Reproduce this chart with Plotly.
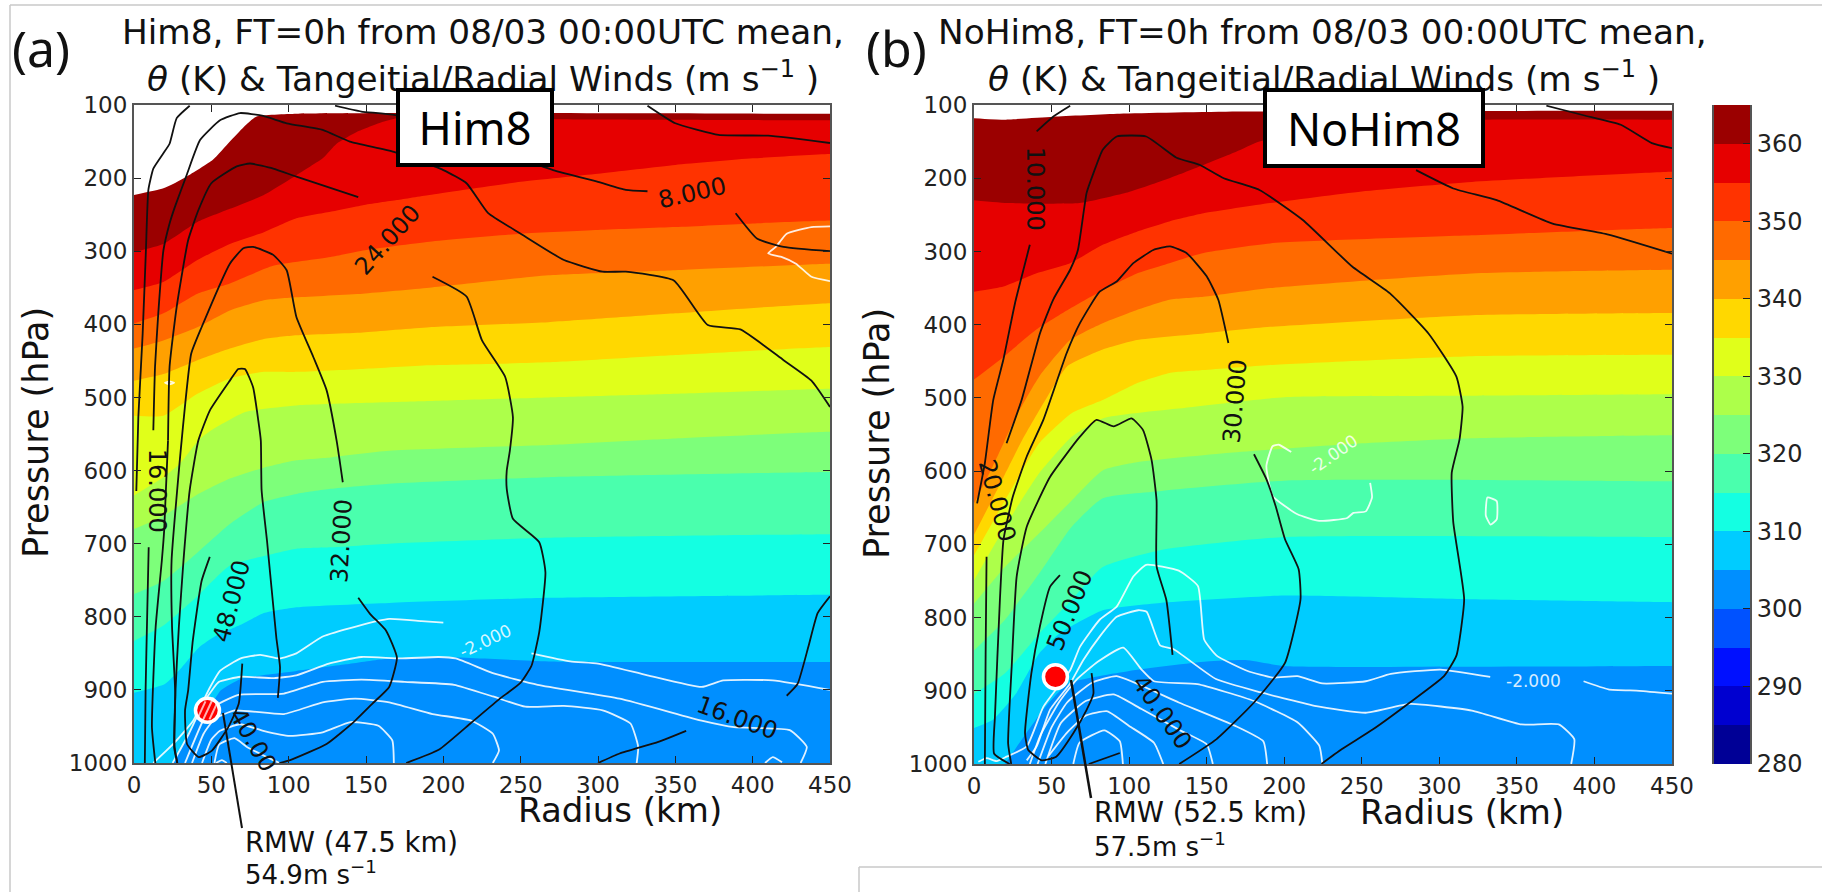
import plotly.graph_objects as go

W, H = 1822, 892
FONT = "DejaVu Sans"

radius_ticks = [0, 50, 100, 150, 200, 250, 300, 350, 400, 450]
pressure_ticks = [100, 200, 300, 400, 500, 600, 700, 800, 900, 1000]
theta_levels = [280, 285, 290, 295, 300, 305, 310, 315, 320, 325, 330, 335, 340, 345, 350, 355, 360, 365]
theta_colors = ["#000096", "#0000d0", "#0010ff", "#0052ff", "#008fff", "#00ccff", "#14ffe2", "#4affad",
                "#7dff7a", "#adff4a", "#e0ff1a", "#ffd800", "#ffa000", "#ff6a00", "#ff3300", "#e60000", "#9b0000"]
theta_ticks = [280, 290, 300, 310, 320, 330, 340, 350, 360]

# ---- panel (a) isentropes: (radius km, pressure hPa) of the lower edge of each band
a_th365 = [(0,223),(19,214),(34,198),(51,175),(62,150),(71,130),(79,116),(105,112),(191,111),(450,112)]
a_th360 = [(0,301),(19,290),(41,260),(62,242),(84,223),(105,196),(122,173),(131,153),(144,137),(161,123),(170,118),(300,120),(450,121)]
a_th355 = [(0,353),(19,342),(41,312),(62,290),(84,274),(105,255),(127,246),(148,237),(170,230),(191,223),(250,205),(300,194),(350,182),(400,173),(450,167)]
a_th350 = [(0,399),(19,385),(41,358),(62,344),(90,320),(127,308),(148,299),(191,287),(250,276),(300,271),(350,267),(400,262),(450,258)]
a_th345 = [(0,433),(19,422),(41,404),(62,381),(84,367),(105,363),(148,358),(191,350),(268,333),(350,326),(450,317)]
a_th340 = [(0,477),(19,468),(41,449),(62,433),(84,420),(105,415),(148,411),(191,404),(268,397),(350,385),(450,371)]
a_th335 = [(0,525),(19,525),(41,495),(62,474),(84,465),(105,465),(148,461),(191,456),(268,452),(350,442),(450,431)]
a_th330 = [(0,634),(19,609),(30,590),(42,558),(50,545),(72,520),(105,511),(191,505),(268,500),(350,495),(450,488)]
a_th325 = [(0,680),(19,662),(40,634),(62,611),(84,596),(105,586),(127,582),(165,573),(268,565),(350,556),(450,547)]
a_th320 = [(0,769),(19,751),(40,714),(62,673),(84,643),(105,632),(127,625),(165,618),(268,609),(450,602)]
a_th315 = [(0,833),(19,812),(40,774),(62,730),(84,717),(105,707),(127,705),(165,700),(268,692),(450,687)]
a_th310 = [(0,904),(20,892),(31,869),(42,842),(53,826),(70,810),(84,795),(105,787),(165,781),(268,774),(450,770)]
a_th305 = [(25,1000),(31,979),(40,942),(50,920),(56,901),(69,885),(105,874),(137,865),(161,858),(200,855),(268,861),(450,862)]

# ---- panel (b) isentropes
b_th365 = [(0,118),(19,120),(51,116),(94,112),(170,109),(450,108)]
b_th360 = [(0,230),(23,234),(68,234),(98,220),(126,200),(148,182),(169,164),(184,150),(240,125),(330,120),(450,120)]
b_th355 = [(0,355),(19,348),(40,330),(62,316),(83,291),(105,273),(126,259),(148,248),(191,234),(250,218),(321,205),(450,191)]
b_th350 = [(0,475),(19,444),(40,407),(62,378),(83,353),(105,330),(126,316),(148,302),(191,289),(321,278),(450,268)]
b_th345 = [(0,644),(12,594),(27,526),(42,471),(62,421),(83,398),(105,380),(126,366),(148,362),(191,350),(321,330),(450,325)]
b_th340 = [(0,687),(16,621),(31,558),(46,503),(60,457),(83,434),(105,421),(148,412),(191,403),(321,387),(450,384)]
b_th335 = [(0,715),(20,640),(42,562),(63,521),(83,503),(105,480),(126,466),(148,462),(191,455),(321,443),(450,441)]
b_th330 = [(0,749),(20,676),(42,603),(63,553),(83,528),(130,515),(200,499),(321,497),(450,495)]
b_th325 = [(0,781),(20,731),(42,685),(63,640),(83,599),(105,588),(165,575),(250,562),(321,555),(450,551)]
b_th320 = [(0,845),(20,803),(42,740),(63,676),(83,637),(121,627),(200,613),(321,612),(450,614)]
b_th315 = [(0,904),(20,876),(42,822),(63,776),(83,731),(120,708),(200,690),(450,690)]
b_th310 = [(0,951),(12,940),(27,904),(42,849),(55,822),(83,790),(120,780),(200,770),(321,775),(450,779)]
b_th305 = [(20,1000),(29,972),(46,922),(61,890),(100,873),(150,860),(175,858),(200,866),(450,866)]

# ---- panel (a) tangential wind contours (black)
a_k1 = [(36,101),(27.6,118),(23,153),(19,166),(12.5,187),(9.3,216),(7.7,299),(5.6,413),(2.8,527),(1.5,628)]
a_k2 = [(9.5,705),(8.5,800),(7.5,900),(7,1000)]
a_k3 = [(12.5,545),(13.6,458),(15.7,385),(19,299),(23,262),(26.5,239),(34,196),(42.7,148),(55.6,121),(68.5,111),(83.6,115),(98.7,125),(122,134),(139.6,150),(168,164),(200,189),(215,207),(229,248),(250,276),(278,312),(303,328),(318,328),(349,340),(371,401),(392,407),(420,449),(438,477),(450,513)]
a_k4a = [(22,559),(19.5,682),(18,723),(14,814),(11.6,951),(13.8,1000)]
a_k4b = [(22,559),(23,458),(27.6,376),(35,285),(41.6,244),(50,207),(66.4,184),(75,180),(90,187),(105,198),(145,226)]
a_k5 = [(193,335),(215,362),(225,422),(240,472),(245,527),(243,573),(241,600),(241,625),(245,666),(262,698),(266,739),(262,821),(257,867),(250,890),(236,913),(218,945),(197,982),(176,1000)]
a_k6a = [(28,1000),(26,979),(26.7,906),(24.6,814),(24.3,723),(30.8,559),(37,440),(43.7,404),(62,317),(70.7,296),(77,294),(90,305),(98.7,326),(105,390),(116,445),(124.5,490),(131,559),(135,616)]
a_k6b = [(145,774),(152.6,796),(163,819),(170,856),(165,896),(154,919),(142,944),(124.5,974),(101,996),(94,1000)]
a_k7 = [(28,1000),(26.3,979),(26.7,906),(29,814),(32,723),(36,627),(41.6,559),(49,518),(62,477),(67.4,461),(71.7,461),(77,486),(80.4,532),(82,559),(82.5,627),(86,696),(92,828),(94.4,869),(93,911)]
a_k8 = [(49,718),(43.7,751),(38,833),(35,901),(33,928),(34.3,974),(41.8,992),(50.4,983),(61,951),(67.7,919),(70,864)]
a_k9 = [(300,1000),(314,987),(339,971),(357,956)]
a_k10 = [(450,772),(442,795),(436,841),(429,892),(422,908)]
a_k11a = [(130,101),(147,109),(169,114),(271,189),(300,205),(318,216),(332,218)]
a_k11b = [(389,248),(403,283),(420,294),(450,300)]
a_k12 = [(332,101),(350,125),(378,141),(410,142),(450,152)]

# ---- panel (a) radial wind contours (white)
a_w1a = [(200,808),(186,806),(165,803),(144,813),(122,827),(105,850),(94,857),(81.6,852),(69,857),(55.6,874),(49,897),(38,943),(25.4,974),(12.5,1000)]
a_w1b = [(257,850),(282,861),(300,864),(332,880),(367,896),(381,887),(413,887),(450,900)]
a_w2 = [(25,1000),(35.5,960),(46,914),(55,889),(69,882),(90.5,884),(105,880),(126,864),(147,855),(172,857),(197,855),(208,857),(232,877),(261,893),(314,912),(367,942),(388,951),(424,955),(435,978),(431,1000)]
a_w3 = [(33,1000),(44,945),(50,925),(67,907),(97,905),(122,889),(147,886),(175,889),(207,893),(232,909),(253,923),(278,922),(303,928),(321,946),(326,978),(325,1000)]
a_w4 = [(37.5,1000),(45,960),(52,940),(65,928),(97,933),(122,917),(143,912),(165,917),(193,933),(218,942),(232,960),(236,983),(232,1000)]
a_w5 = [(44,1000),(50,968),(55.6,956),(68.5,947),(83.6,956),(100.8,963),(122,958),(140,944),(158,949),(167,969),(168,1000)]
a_w6 = [(52,1000),(55,975),(65,966),(73,978),(90,996),(94,1000)]
a_w7 = [(53,1000),(56.8,996),(60,1000)]
a_w8 = [(408,1000),(413,992),(419,999)]
a_w9 = [(450,266),(438,267),(422,276),(415,294),(410,303),(419,308),(428,317),(438,335),(450,341)]
a_w10 = [(20,480),(23,478),(26,480),(23,482),(20,480)]

# ---- panel (b) tangential wind contours (black)
b_k1 = [(62,101),(51,116),(40.4,136)]
b_k2 = [(36,291),(26.4,371),(18.9,448),(12.4,503),(7,589),(2,644)]
b_k3 = [(21,562),(30.7,503),(42.5,412),(51,366),(62,325),(67,298),(72.6,220),(77,193),(83,161),(92,143),(111,143),(130.6,172),(145.7,182),(161,200),(184,216),(212,257),(244,321),(268,357),(293,412),(311,471),(315,512),(313,557),(308,602),(309,670),(316,775),(311,852),(303,880),(281,916),(257,953),(237,980),(224,1000)]
b_k4 = [(23,1000),(13,986),(13.5,935),(16.7,776),(19,694),(25,635),(34,580),(44.7,530),(59.7,439),(68.3,398),(81,355),(92,341),(102.7,316),(115.6,298),(126.4,293),(137,302),(150,334),(157.5,366),(164,425)]
b_k5 = [(180.5,577),(188.5,611),(194.5,648),(200.5,693),(209.3,734),(210.5,775),(200.5,862),(180.5,916),(156.4,966),(132.3,1000)]
b_k6 = [(24,1000),(22,972),(24.3,867),(27.5,744),(34,676),(49,608),(68.3,553),(79,530),(90,539),(101.6,528),(109,544),(114.5,585),(117.7,640),(117.7,730),(124,776),(128,851)]
b_k7 = [(55.4,742),(49,758),(42.5,812),(37,876),(32.9,958),(35,981),(43.6,995),(53,990),(64,958),(72.6,926),(77,904),(75.8,876)]
b_k8 = [(8.1,717),(7.5,850),(7,1000)]
b_k9 = [(74,1000),(94,985)]
b_k10 = [(369,101),(393,114),(417,127),(437,152),(450,159)]
b_k11 = [(285,189),(309,214),(337,230),(373,262),(409,277),(450,303)]

# ---- panel (b) radial wind contours (white)
b_w1 = [(204.5,574),(196.5,564),(192.5,566),(188.5,593),(192.5,634),(208.5,659),(222.6,668),(240.6,664),(244.6,657),(252.6,655),(256.6,636),(255.4,616)]
b_w2 = [(331,636),(337,641),(337,666),(333,673),(330,661),(331,636)]
b_w3a = [(2.8,997),(8.1,992),(14.6,996),(21,990),(34,976),(44.7,922),(62,872),(68.3,840),(81,803),(92,785),(102.7,744),(111,728),(132,736),(144.4,757),(148.4,830),(156.4,852),(176.4,873),(192.5,882),(208.5,880),(224.6,890),(252.6,887),(268.7,877),(300.7,871),(332.8,881)]
b_w3b = [(393,887),(409,898),(429,900),(450,904)]
b_w4 = [(34,995),(40.4,976),(49,926),(62,890),(70.5,858),(81,826),(92,799),(106,790),(111.3,792),(120,838),(128.5,843),(156,884),(184.5,902),(220.6,921),(252.6,930),(281,918),(321,927),(353,946),(377,946),(387,966),(385,1000)]
b_w5 = [(36,1000),(43,960),(55,915),(66,885),(80,860),(96.2,841),(108,871),(116,887),(144,891),(180.5,914),(208.5,943),(222.6,975),(224.6,1000)]
b_w6 = [(41,1000),(50,950),(60,916),(76,889),(92,880),(132,916),(168.4,948),(186.5,969),(189,1000)]
b_w7 = [(46,1000),(56,944),(72,914),(90,905),(108,925),(132,953),(150,973),(154,1000)]
b_w8 = [(48,989),(60,957),(72,934),(86,928),(100,948),(116,971),(122,1000)]
b_w9 = [(64,1000),(68,971),(84,954),(94,969),(96,1000)]

a_rmw_point = (47.5, 928)
b_rmw_point = (52.5, 881)
a_hatch_r = [43.5, 47.5, 51.5]
a_hatch_size = [14, 20, 14]

a_isentropes = [(365,a_th365),(360,a_th360),(355,a_th355),(350,a_th350),(345,a_th345),(340,a_th340),(335,a_th335),(330,a_th330),(325,a_th325),(320,a_th320),(315,a_th315),(310,a_th310),(305,a_th305)]
b_isentropes = [(365,b_th365),(360,b_th360),(355,b_th355),(350,b_th350),(345,b_th345),(340,b_th340),(335,b_th335),(330,b_th330),(325,b_th325),(320,b_th320),(315,b_th315),(310,b_th310),(305,b_th305)]
a_black = [a_k1,a_k2,a_k3,a_k4a,a_k4b,a_k5,a_k6a,a_k6b,a_k7,a_k8,a_k9,a_k10,a_k11a,a_k11b,a_k12]
a_white = [a_w1a,a_w1b,a_w2,a_w3,a_w4,a_w5,a_w6,a_w7,a_w8,a_w9,a_w10]
b_black = [b_k1,b_k2,b_k3,b_k4,b_k5,b_k6,b_k7,b_k8,b_k9,b_k10,b_k11]
b_white = [b_w1,b_w2,b_w3a,b_w3b,b_w4,b_w5,b_w6,b_w7,b_w8,b_w9]

fig = go.Figure()

def band_color(top):
    return theta_colors[theta_levels.index(top) - 1]

def draw_panel(isentropes, black, white, xa, ya):
    for top, edge in isentropes:
        rs = [q[0] for q in edge]
        ps = [q[1] for q in edge]
        fig.add_trace(go.Scatter(x=rs + [rs[-1] + 40, rs[-1] + 40, rs[0] - 40], y=ps + [ps[-1], 1200, 1200], mode="lines", fill="toself",
                                 fillcolor=band_color(top), line=dict(width=0, shape="spline", smoothing=0.5), hoverinfo="skip",
                                 showlegend=False, xaxis=xa, yaxis=ya))
    for line, col, wd in [(w, "rgba(255,255,255,0.88)", 1.8) for w in white] + [(k, "#111111", 1.8) for k in black]:
        fig.add_trace(go.Scatter(x=[q[0] for q in line], y=[q[1] for q in line], mode="lines",
                                 line=dict(color=col, width=wd, shape="spline", smoothing=0.45),
                                 hoverinfo="skip", showlegend=False, xaxis=xa, yaxis=ya))

draw_panel(a_isentropes, a_black, a_white, "x", "y")
draw_panel(b_isentropes, b_black, b_white, "x2", "y2")

# RMW dots
for pt, xa, ya in [(a_rmw_point, "x", "y"), (b_rmw_point, "x2", "y2")]:
    fig.add_trace(go.Scatter(x=[pt[0]], y=[pt[1]], mode="markers", cliponaxis=False, hoverinfo="skip", showlegend=False,
                             marker=dict(size=24, color="#ff0000", line=dict(color="white", width=3.5)), xaxis=xa, yaxis=ya))
fig.add_trace(go.Scatter(x=a_hatch_r, y=[a_rmw_point[1]] * 3, mode="markers", hoverinfo="skip", showlegend=False,
                         marker=dict(symbol="line-ne", size=a_hatch_size, angle=-20, line=dict(color="white", width=2)),
                         xaxis="x", yaxis="y"))

# colour bar
fig.add_trace(go.Bar(x=[0] * 17, y=[theta_levels[i + 1] - theta_levels[i] for i in range(17)], base=theta_levels[:-1],
                     width=1, marker=dict(color=theta_colors, line=dict(width=0)), hoverinfo="skip",
                     showlegend=False, xaxis="x3", yaxis="y3"))

def ax_common():
    return dict(showgrid=False, zeroline=False, showline=True, linecolor="#555555", linewidth=2, mirror="allticks",
                ticks="inside", ticklen=7, tickwidth=1, tickcolor="#222222",
                tickfont=dict(family=FONT, size=23, color="#222222"))

def fx(x):
    return x / W

def fy(y):
    return 1 - y / H

fig.update_layout(
    width=W, height=H, autosize=False, margin=dict(l=0, r=0, t=0, b=0, autoexpand=False),
    paper_bgcolor="white", plot_bgcolor="white", showlegend=False, bargap=0,
    xaxis=dict(domain=[fx(134), fx(830)], range=[0, 450], tickvals=radius_ticks, anchor="y", **ax_common()),
    yaxis=dict(domain=[fy(763), fy(105)], range=[1000, 100], tickvals=pressure_ticks, anchor="x", **ax_common()),
    xaxis2=dict(domain=[fx(974), fx(1672)], range=[0, 450], tickvals=radius_ticks, anchor="y2", **ax_common()),
    yaxis2=dict(domain=[fy(764), fy(105)], range=[1000, 100], tickvals=pressure_ticks, anchor="x2", **ax_common()),
    xaxis3=dict(domain=[fx(1714), fx(1750)], range=[-0.5, 0.5], visible=False, anchor="y3"),
    yaxis3=dict(domain=[fy(764), fy(105)], range=[280, 365], tickvals=theta_ticks, side="right", anchor="x3",
                showgrid=False, zeroline=False, showline=True, linecolor="#555555", linewidth=2, mirror=True,
                ticks="inside", ticklen=7, tickwidth=1, tickcolor="#222222",
                tickfont=dict(family=FONT, size=24, color="#222222")),
)

def note(text, x, y, size, angle=0, color="#111111", family=FONT, xanchor="center", **kw):
    fig.add_annotation(text=text, x=fx(x), y=fy(y), xref="paper", yref="paper", showarrow=False, font=dict(family=family, size=size, color=color),
                       textangle=angle, xanchor=xanchor, yanchor="middle", **kw)

def dnote(text, x, y, xa, ya, size, angle=0, color="#111111"):
    fig.add_annotation(text=text, x=x, y=y, xref=xa, yref=ya, showarrow=False, font=dict(family=FONT, size=size, color=color),
                       textangle=angle, xanchor="center", yanchor="middle")

# titles
TITLE2 = "<i>θ</i> (K) &amp; Tangeitial/Radial Winds (m s<sup>−1</sup> )"
note("Him8, FT=0h from 08/03 00:00UTC mean,", 483, 32, 34.3)
note(TITLE2, 483, 77, 34.3)
note("NoHim8, FT=0h from 08/03 00:00UTC mean,", 1322, 32, 34.3)
note(TITLE2, 1324, 77, 34.3)
note("(a)", 41, 48, 50, family="Noto Sans")
note("(b)", 896, 48, 50, family="Noto Sans")

# axis titles
note("Pressure (hPa)", 36, 433, 35, angle=-90)
note("Pressure (hPa)", 877, 434, 35, angle=-90)
note("Radius (km)", 620, 810, 34)
note("Radius (km)", 1462, 812, 34)

# RMW notes
note("RMW (47.5 km)", 243, 842, 27.5, xanchor="left")
note("54.9m s<sup>−1</sup>", 243, 873, 26, xanchor="left")
note("RMW (52.5 km)", 1092, 812, 27.5, xanchor="left")
note("57.5m s<sup>−1</sup>", 1092, 845, 26, xanchor="left")

# contour labels
dnote("8.000", 361, 221, "x", "y", 24, -13)
dnote("24.000", 164, 285, "x", "y", 24, -48)
dnote("16.000", 14.6, 627, "x", "y", 24, 90)
dnote("32.000", 134, 696, "x", "y", 24, -87)
dnote("48.000", 63, 778, "x", "y", 24, -75)
dnote("40.00", 77, 968, "x", "y", 24, 60)
dnote("16.000", 390, 939, "x", "y", 24, 20)
dnote("-2.000", 227, 833, "x", "y", 17, -25, "rgba(255,255,255,0.85)")
dnote("10.000", 39, 215, "x2", "y2", 24, 90)
dnote("20.000", 14.6, 640, "x2", "y2", 24, 75)
dnote("30.000", 168, 505, "x2", "y2", 24, -85)
dnote("50.000", 62, 790, "x2", "y2", 24, -68)
dnote("40.000", 121, 929, "x2", "y2", 24, 55)
dnote("-2.000", 232, 577, "x2", "y2", 17, -35, "rgba(255,255,255,0.85)")
dnote("-2.000", 361, 887, "x2", "y2", 17, 0, "rgba(255,255,255,0.85)")

# boxes above the titles
note("Him8", 475, 127.5, 45, family="Noto Sans", color="black", width=150, height=71, bgcolor="white", bordercolor="black", borderwidth=4, borderpad=0, align="center", valign="middle")
note("NoHim8", 1374, 128, 45, family="Noto Sans", color="black", width=214, height=72, bgcolor="white", bordercolor="black", borderwidth=4, borderpad=0, align="center", valign="middle")

# leaders and slide frame lines
def seg(x0, y0, x1, y1, color, width):
    fig.add_shape(type="line", xref="paper", yref="paper", x0=fx(x0), y0=fy(y0), x1=fx(x1), y1=fy(y1),
                  line=dict(color=color, width=width), layer="above")

seg(223, 713, 242, 828, "#111111", 2)
seg(1071, 680, 1091, 798, "#111111", 2.5)
seg(10, 5, 1822, 5, "#c8c8c8", 1.5)
seg(10, 5, 10, 892, "#c8c8c8", 1.5)
seg(859, 867, 1822, 867, "#c8c8c8", 1.5)
seg(859, 867, 859, 892, "#c8c8c8", 1.5)

fig.write_html("out.html", config={"displayModeBar": False}, post_script="document.body.style.margin='0';document.body.style.overflow='hidden';")
